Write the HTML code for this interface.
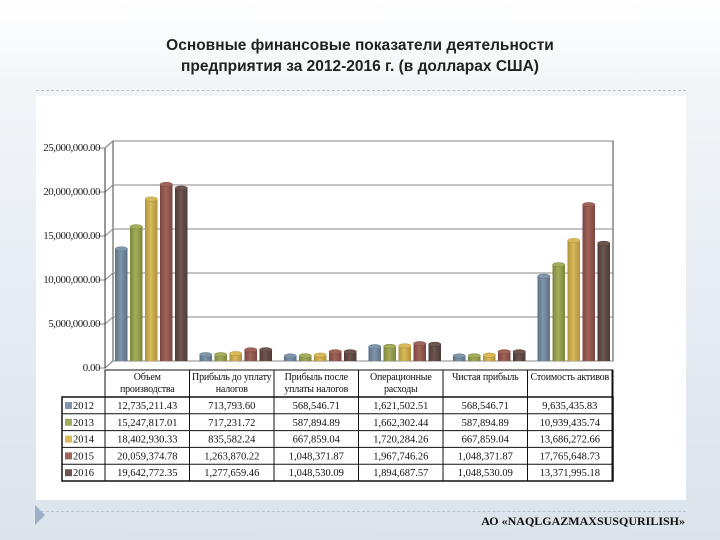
<!DOCTYPE html>
<html><head><meta charset="utf-8"><style>
body{margin:0;width:720px;height:540px;overflow:hidden;background:linear-gradient(#ffffff 0,#f3f6f9 80px,#e6ecf2 300px,#dbe4ec 540px);font-family:"Liberation Sans",sans-serif;position:relative}
#title{position:absolute;top:35px;left:0;width:720px;text-align:center;font-weight:bold;font-size:15.5px;line-height:21px;color:#222}
.dash{position:absolute;left:36px;width:650px;border-top:1px dashed #b8c4cf}
#panel{position:absolute;left:36px;top:96px;width:650px;height:404px;background:#fff}
#footer{position:absolute;left:440px;top:514px;width:245px;text-align:right;font-family:"Liberation Serif",serif;font-weight:bold;font-size:12px;color:#111}
#arrow{position:absolute;left:35px;top:505px;width:0;height:0;border-left:10px solid #9bb0c6;border-top:10px solid transparent;border-bottom:10px solid transparent}
svg text{font-family:"Liberation Serif",serif}
</style></head><body>
<div id="title">Основные финансовые показатели деятельности<br>предприятия за 2012-2016 г. (в долларах США)</div>
<div class="dash" style="top:90px"></div>
<div id="panel"></div>
<div class="dash" style="top:511px"></div>
<div id="arrow"></div>
<div id="footer">АО «NAQLGAZMAXSUSQURILISH»</div>
<svg id="chart" width="720" height="540" style="position:absolute;left:0;top:0">
<defs id="defs"></defs>
</svg>
<script>
const categories=["Объем производства","Прибыль до уплату налогов","Прибыль после уплаты налогов","Операционные расходы","Чистая прибыль","Стоимость активов"];
const years=["2012","2013","2014","2015","2016"];
const v2012=[12735211.43,713793.60,568546.71,1621502.51,568546.71,9635435.83];
const v2013=[15247817.01,717231.72,587894.89,1662302.44,587894.89,10939435.74];
const v2014=[18402930.33,835582.24,667859.04,1720284.26,667859.04,13686272.66];
const v2015=[20059374.78,1263870.22,1048371.87,1967746.26,1048371.87,17765648.73];
const v2016=[19642772.35,1277659.46,1048530.09,1894687.57,1048530.09,13371995.18];
const tickVals=[0,5000000,10000000,15000000,20000000,25000000];
const tickLabels=["0.00","5,000,000.00","10,000,000.00","15,000,000.00","20,000,000.00","25,000,000.00"];
const series=[v2012,v2013,v2014,v2015,v2016];
const colors=["#7f96ab","#a4ad5c","#d9b95a","#a0645a","#6e5650"];
const dark=["#5c7085","#7c843c","#b0923a","#7a463f","#4e3a36"];
const svg=document.getElementById('chart');const defs=document.getElementById('defs');
const NS="http://www.w3.org/2000/svg";
function mk(t,a){const e=document.createElementNS(NS,t);for(const k in a)e.setAttribute(k,a[k]);return e;}
const backY=v=>361-v*8.8e-6, frontY=v=>368-v*8.8e-6;
const x0=105,colW=84.5;
const catX=i=>x0+i*colW;
const wall=mk('path',{d:`M105 368 L113 361 L113 141 L105 148 Z`,fill:'#fff',stroke:'#666','stroke-width':1});
svg.appendChild(wall);
const back=mk('rect',{x:113,y:141,width:500,height:220,fill:'none',stroke:'#444','stroke-width':1});
svg.appendChild(back);
tickVals.forEach((t,i)=>{
 const g=mk('polyline',{points:`98,${frontY(t)} 105,${frontY(t)} 113,${backY(t)} 613,${backY(t)}`,fill:'none',stroke:'#888','stroke-width':1});
 svg.appendChild(g);
 const l=mk('text',{x:100,y:frontY(t)+3,'text-anchor':'end','font-size':'11',fill:'#222','letter-spacing':'-0.5'});
 l.textContent=tickLabels[i];
 svg.appendChild(l);
});
const yax=mk('line',{x1:105,y1:148,x2:105,y2:368,stroke:'#333'});
svg.appendChild(yax);
colors.forEach((c,j)=>{
 const lg=mk('linearGradient',{id:'g'+j,x1:0,x2:1,y1:0,y2:0});
 lg.appendChild(mk('stop',{offset:'0','stop-color':dark[j]}));
 lg.appendChild(mk('stop',{offset:'0.45','stop-color':c}));
 lg.appendChild(mk('stop',{offset:'1','stop-color':dark[j]}));
 defs.appendChild(lg);
});
const bw=12.5;
categories.forEach((cat,i)=>{
 series.forEach((s,j)=>{
  const x=catX(i)+10+j*(bw+2.5);const yt=backY(s[i]);
  const r=mk('rect',{x:x,y:yt,width:bw,height:361-yt,fill:`url(#g${j})`});
  svg.appendChild(r);
  const e=mk('ellipse',{cx:x+bw/2,cy:yt,rx:bw/2,ry:2.2,fill:colors[j],stroke:dark[j],'stroke-width':0.5});
  svg.appendChild(e);
 });
});
const tL=62,tTop=370,hH=27,rH=16.8,tR=613;
const tb=mk('rect',{x:tL,y:tTop+hH,width:tR-tL,height:rH*5,fill:'none',stroke:'#111','stroke-width':1.5});
svg.appendChild(tb);
const hb=mk('rect',{x:x0,y:tTop,width:tR-x0,height:hH,fill:'none',stroke:'#111'});
svg.appendChild(hb);
for(let i=0;i<=6;i++){const l=mk('line',{x1:catX(i),y1:tTop,x2:catX(i),y2:tTop+hH+rH*5,stroke:'#111'});svg.appendChild(l);}
for(let r=1;r<5;r++){const l=mk('line',{x1:tL,y1:tTop+hH+r*rH,x2:tR,y2:tTop+hH+r*rH,stroke:'#111'});svg.appendChild(l);}
const hdr=[["Объем","производства"],["Прибыль до уплату","налогов"],["Прибыль после","уплаты налогов"],["Операционные","расходы"],["Чистая прибыль",""],["Стоимость активов",""]];
categories.forEach((c,i)=>{
 const t=mk('text',{x:catX(i)+colW/2,y:tTop+10,'text-anchor':'middle','font-size':'10','letter-spacing':'-0.2',fill:'#111'});
 
 const a=mk('tspan',{x:catX(i)+colW/2});a.textContent=hdr[i][0];t.appendChild(a);
 const b=mk('tspan',{x:catX(i)+colW/2,dy:12});b.textContent=hdr[i][1];t.appendChild(b);
 svg.appendChild(t);
});
const fmt=v=>v.toLocaleString('en-US',{minimumFractionDigits:2,maximumFractionDigits:2});
series.forEach((s,j)=>{
 const y=tTop+hH+j*rH;
 const k=mk('rect',{x:tL+3,y:y+5,width:7,height:7,fill:colors[j]});
 svg.appendChild(k);
 const yl=mk('text',{x:tL+11,y:y+12,'font-size':'10.5',fill:'#111'});yl.textContent=years[j];
 svg.appendChild(yl);
 s.forEach((v,i)=>{
  const t=mk('text',{x:catX(i)+colW/2,y:y+12,'text-anchor':'middle','font-size':'10.5',fill:'#111'});
  t.textContent=fmt(v);
  svg.appendChild(t);
 });
});
</script>
</body></html>
